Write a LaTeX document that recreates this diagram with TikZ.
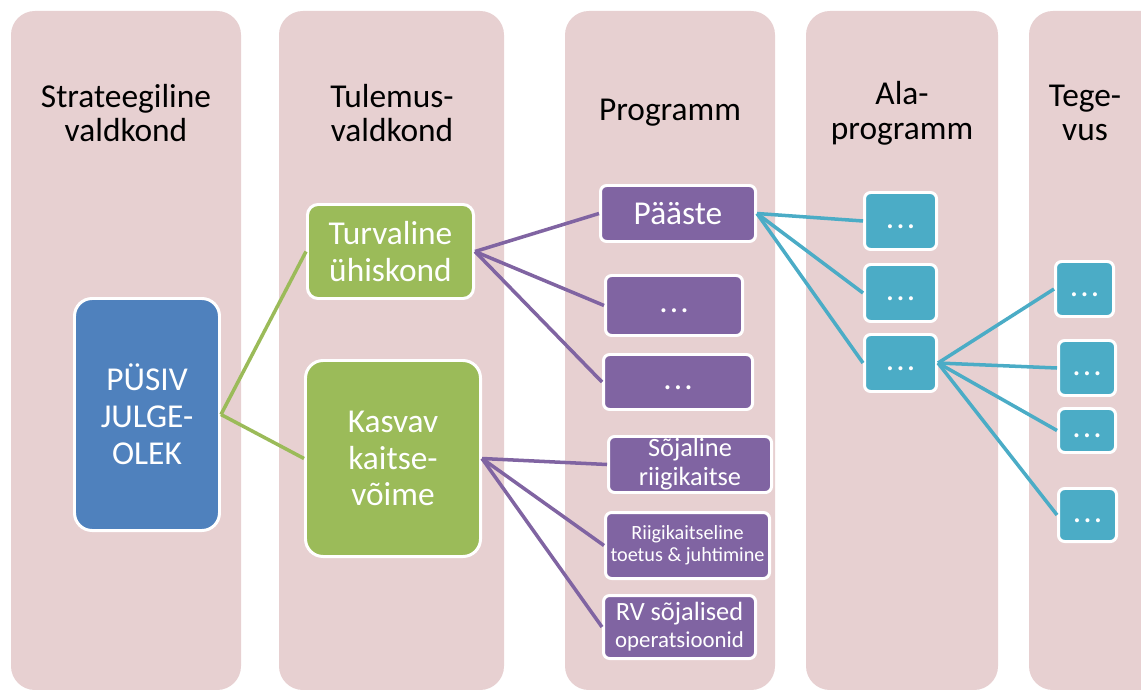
\documentclass[tikz,border=0pt]{standalone}
\usepackage{fontspec}
\setmainfont{Carlito}
\definecolor{lanepink}{RGB}{231,208,209}
\definecolor{sblue}{HTML}{4F81BD}
\definecolor{sgreen}{HTML}{9BBB59}
\definecolor{spurple}{HTML}{8064A2}
\definecolor{steal}{HTML}{4BACC6}
\tikzset{
  lanehead/.style={align=center, text=black, inner sep=0pt, font=\fontsize{19}{19.8}\selectfont},
  tbox/.style={draw=white, line width=1.7pt, text=white, align=center, inner sep=0pt,
    rounded corners=3.5pt, font=\fontsize{19}{21}\selectfont},
  bluebox/.style={tbox, fill=sblue, rounded corners=10pt},
  greenbox/.style={tbox, fill=sgreen, rounded corners=6pt},
  purplebox/.style={tbox, fill=spurple},
  tealbox/.style={tbox, fill=steal},
  link/.style={line width=2pt}
}
\newcommand{\lane}[6]{\fill[lanepink, rounded corners=13.6pt] (#1,11) rectangle (#2,690); \node[lanehead] (#3) at (#4,#5) {#6};}
\newcommand{\blk}[7]{\node[#1, minimum width={(#5-#3-3)*0.02cm}, minimum height={(#6-#4-3)*0.02cm}] (#2) at ({(#3+#5)/2},{(#4+#6)/2}) {#7};}
\newcommand{\tdots}{\strut.\kern1.2pt.\kern1.2pt.}
\begin{document}
\begin{tikzpicture}[x=0.02cm, y=-0.02cm]
\useasboundingbox (0,0) rectangle (1141,689);
% lanes
\lane{11}{241}{hdstrat}{126}{113}{Strateegiline\\valdkond}
\lane{279}{504}{hdtulem}{392}{113}{Tulemus-\\valdkond}
\lane{565}{775}{hdprog}{670}{113}{Programm}
\lane{806}{998}{hdala}{902}{113}{Ala-\\programm}
\lane{1029}{1200}{hdteg}{1085}{113}{Tege-\\vus}
% strategic area
\blk{bluebox}{pysiv}{73}{297}{221}{532}{PÜSIV\\JULGE-\\OLEK}
% result areas
\blk{greenbox}{turv}{306}{203}{475}{300}{Turvaline\\ühiskond}
\blk{greenbox, rounded corners=10pt}{kasv}{304}{359}{482}{558}{Kasvav\\kaitse-\\võime}
% programmes
\blk{purplebox}{paaste}{599}{184}{757}{243}{Pääste}
\blk{purplebox}{progA}{604}{274}{744}{337}{\tdots}
\blk{purplebox}{progB}{602}{353}{754}{411}{\tdots}
\blk{purplebox, font=\fontsize{15}{16.5}\selectfont}{sojal}{607}{435}{773}{494}{Sõjaline\\riigikaitse}
\blk{purplebox, font=\fontsize{11.5}{12.5}\selectfont}{riigi}{604}{511}{771}{580}{Riigikaitseline\\toetus \& juhtimine}
\blk{purplebox, font=\fontsize{15}{15.5}\selectfont}{rvop}{602}{594}{757}{660}{RV sõjalised\\\fontsize{13}{15}\selectfont operatsioonid}
% sub-programmes
\blk{tealbox}{alaA}{863}{191}{938}{251}{\tdots}
\blk{tealbox}{alaB}{863}{263}{938}{323}{\tdots}
\blk{tealbox}{alaC}{863}{333}{938}{393}{\tdots}
% activities
\blk{tealbox}{tegA}{1054}{260}{1115}{318}{\tdots}
\blk{tealbox}{tegB}{1057}{339}{1117}{397}{\tdots}
\blk{tealbox}{tegC}{1057}{407}{1117}{454}{\tdots}
\blk{tealbox}{tegD}{1057}{487}{1118}{543}{\tdots}
% links
\foreach \tgt in {turv,kasv} \draw[link, sgreen] (pysiv.east) -- (\tgt.west);
\foreach \tgt in {paaste,progA,progB} \draw[link, spurple] (turv.east) -- (\tgt.west);
\foreach \tgt in {sojal,riigi,rvop} \draw[link, spurple] (kasv.east) -- (\tgt.west);
\foreach \tgt in {alaA,alaB,alaC} \draw[link, steal] (paaste.east) -- (\tgt.west);
\foreach \tgt in {tegA,tegB,tegC,tegD} \draw[link, steal] (alaC.east) -- (\tgt.west);
\end{tikzpicture}
\end{document}
